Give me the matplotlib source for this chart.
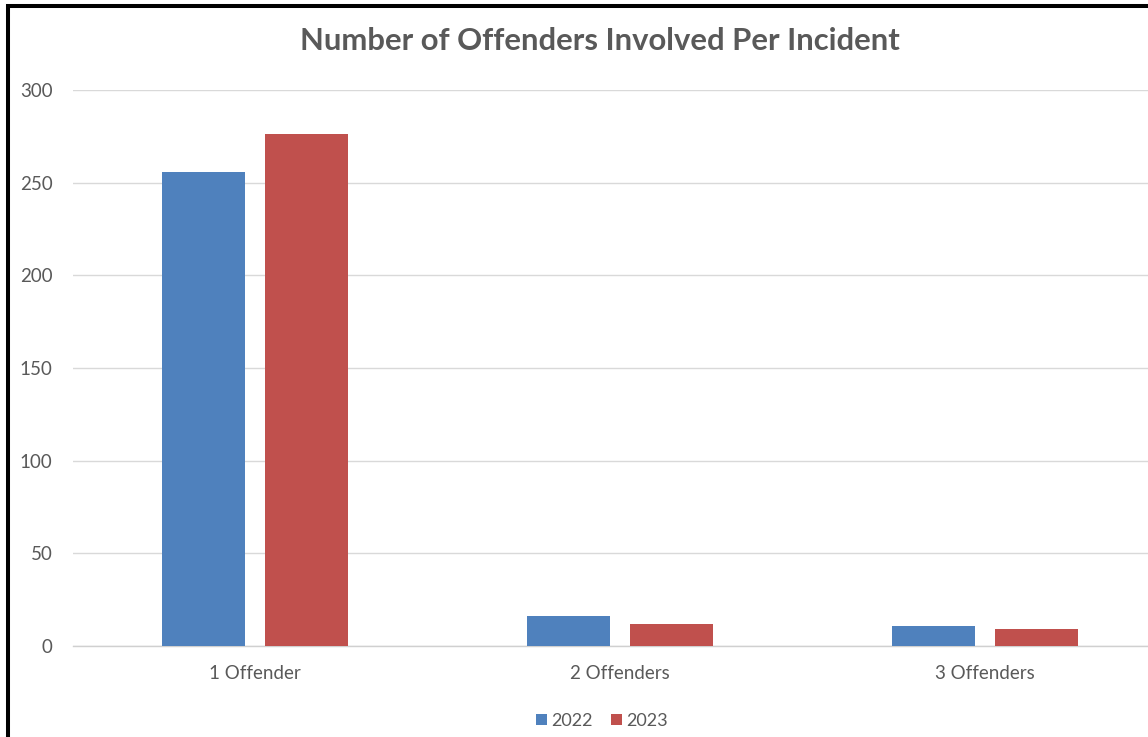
import matplotlib.pyplot as plt
import numpy as np
from matplotlib.patches import Rectangle

categories = ['1 Offender', '2 Offenders', '3 Offenders']
series_names = ['2022', '2023']
values_2022 = [256, 16, 11]
values_2023 = [276, 12, 9]
colors = ['#4F81BD', '#C0504D']

plt.rcParams['font.family'] = ['Lato', 'DejaVu Sans']

W, H = 1148, 737
fig = plt.figure(figsize=(W / 100, H / 100), dpi=100)

# plot area runs past the right edge (the original screenshot is cropped)
ax = fig.add_axes([72.5 / W, 91 / H, 1095 / W, 556 / H])

x = np.arange(len(categories))
width = 0.225
offset = 0.141
ax.bar(x - offset, values_2022, width, color=colors[0], label=series_names[0], zorder=3)
ax.bar(x + offset, values_2023, width, color=colors[1], label=series_names[1], zorder=3)

ax.set_xlim(-0.5, 2.5)
ax.set_ylim(0, 300)
ax.set_yticks(range(0, 301, 50))
ax.set_xticks(x)
ax.set_xticklabels(categories)

ax.yaxis.grid(True, color='#d9d9d9', linewidth=1.0, zorder=0)
ax.set_axisbelow(True)
for s in ['top', 'right', 'left']:
    ax.spines[s].set_visible(False)
ax.spines['bottom'].set_color('#d0d0d0')
ax.spines['bottom'].set_linewidth(1.0)
ax.tick_params(axis='both', length=0, labelsize=13.5, colors='#595959')
ax.tick_params(axis='y', pad=14.5)
ax.tick_params(axis='x', pad=13.5)

fig.text(600 / W, 1 - 41 / H, 'Number of Offenders Involved Per Incident',
         ha='center', va='center', fontsize=22.3, fontweight='bold', color='#595959')

fig.legend(loc='center', bbox_to_anchor=(602 / W, 16 / H), ncol=2, frameon=False,
           fontsize=13, labelcolor='#595959', handlelength=0.6, handleheight=0.6,
           handletextpad=0.25, columnspacing=1.0)

# black frame of the screenshot (left and top edges visible)
fig.patches.append(Rectangle((8 / W, -0.1), 1.2, 1 - 6 / H + 0.1, transform=fig.transFigure,
                             fill=False, edgecolor='black', linewidth=2.9, zorder=10))

fig.savefig('out.png', dpi=100)
